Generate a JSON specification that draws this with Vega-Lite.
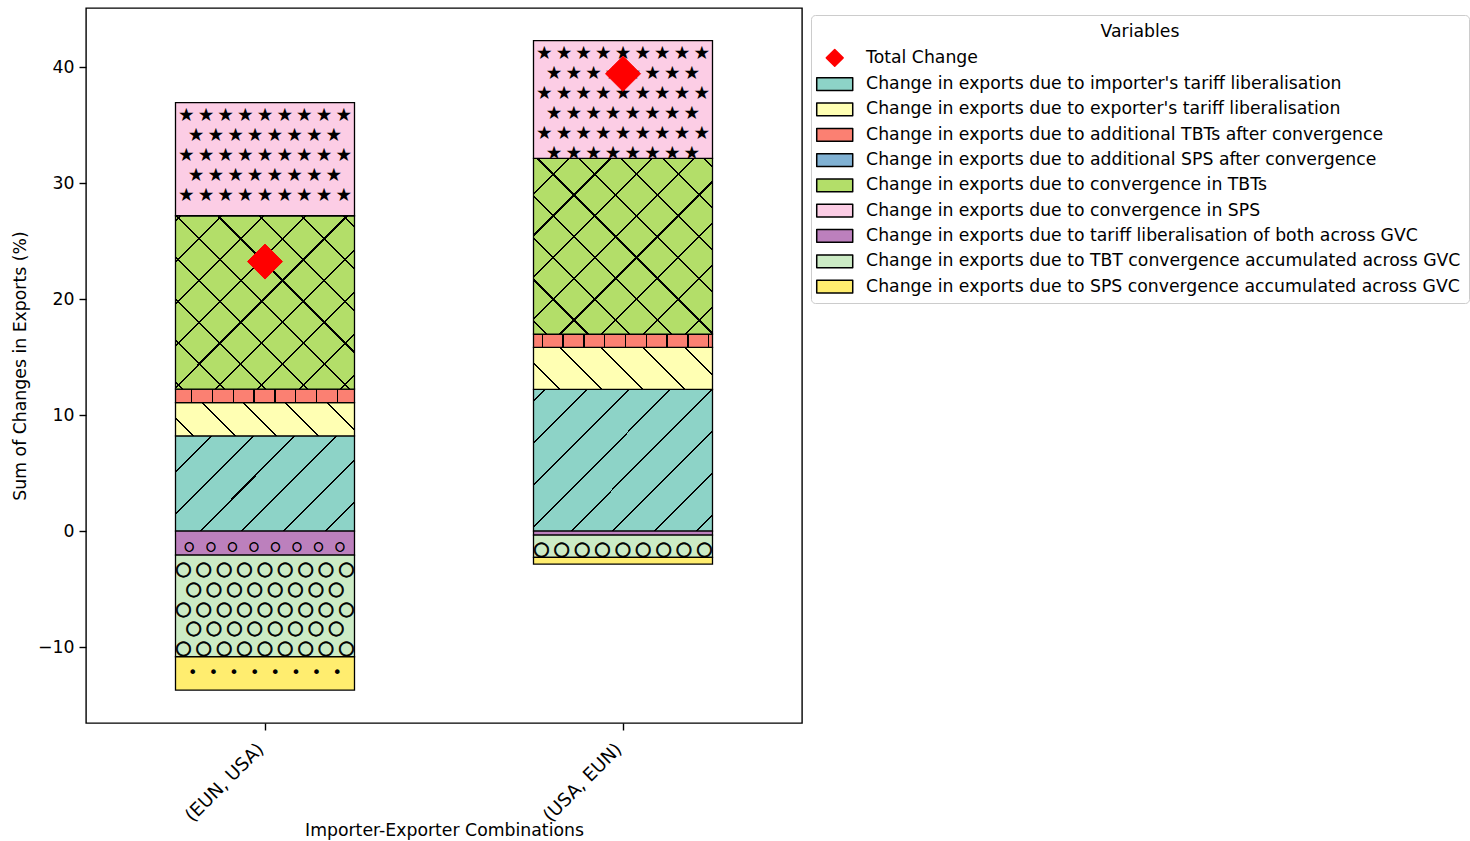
{
  "$schema": "https://vega.github.io/schema/vega-lite/v6.json",
  "width": 716,
  "height": 715,
  "autosize": {"type": "none"},
  "padding": {"left": 86, "top": 8, "right": 668, "bottom": 118},
  "background": "white",
  "config": {
    "font": "DejaVu Sans",
    "view": {"stroke": "black", "strokeWidth": 1.4},
    "axis": {
      "labelFont": "DejaVu Sans", "labelFontSize": 17.3, "labelColor": "black",
      "titleFont": "DejaVu Sans", "titleFontSize": 17.3, "titleFontWeight": "normal", "titleColor": "black",
      "tickColor": "black", "tickWidth": 1.4, "tickSize": 7, "domain": false, "grid": false
    },
    "legend": {
      "orient": "none", "legendX": 725, "legendY": 7, "direction": "vertical",
      "titleFont": "DejaVu Sans", "titleFontSize": 17.25, "titleFontWeight": "normal", "titleColor": "black",
      "titleAnchor": "middle", "titlePadding": 9,
      "labelFont": "DejaVu Sans", "labelFontSize": 17.25, "labelColor": "black", "labelLimit": 1000,
      "symbolSize": 240, "symbolStrokeWidth": 1.5, "symbolOffset": 7.1, "labelOffset": 22.75, "rowPadding": 7.3,
      "padding": 8, "strokeColor": "#cccccc", "fillColor": "white", "cornerRadius": 4
    }
  },
  "datasets": {
    "segments": [
      {"combo": "(EUN, USA)", "variable": "Change in exports due to importer's tariff liberalisation", "value": 8.2},
      {"combo": "(EUN, USA)", "variable": "Change in exports due to exporter's tariff liberalisation", "value": 2.87},
      {"combo": "(EUN, USA)", "variable": "Change in exports due to additional TBTs after convergence", "value": 1.16},
      {"combo": "(EUN, USA)", "variable": "Change in exports due to additional SPS after convergence", "value": 0},
      {"combo": "(EUN, USA)", "variable": "Change in exports due to convergence in TBTs", "value": 14.95},
      {"combo": "(EUN, USA)", "variable": "Change in exports due to convergence in SPS", "value": 9.76},
      {"combo": "(EUN, USA)", "variable": "Change in exports due to tariff liberalisation of both across GVC", "value": -2.07},
      {"combo": "(EUN, USA)", "variable": "Change in exports due to TBT convergence accumulated across GVC", "value": -8.77},
      {"combo": "(EUN, USA)", "variable": "Change in exports due to SPS convergence accumulated across GVC", "value": -2.87},
      {"combo": "(USA, EUN)", "variable": "Change in exports due to importer's tariff liberalisation", "value": 12.22},
      {"combo": "(USA, EUN)", "variable": "Change in exports due to exporter's tariff liberalisation", "value": 3.62},
      {"combo": "(USA, EUN)", "variable": "Change in exports due to additional TBTs after convergence", "value": 1.14},
      {"combo": "(USA, EUN)", "variable": "Change in exports due to additional SPS after convergence", "value": 0},
      {"combo": "(USA, EUN)", "variable": "Change in exports due to convergence in TBTs", "value": 15.15},
      {"combo": "(USA, EUN)", "variable": "Change in exports due to convergence in SPS", "value": 10.14},
      {"combo": "(USA, EUN)", "variable": "Change in exports due to tariff liberalisation of both across GVC", "value": -0.35},
      {"combo": "(USA, EUN)", "variable": "Change in exports due to TBT convergence accumulated across GVC", "value": -1.92},
      {"combo": "(USA, EUN)", "variable": "Change in exports due to SPS convergence accumulated across GVC", "value": -0.58}
    ],
    "totals": [
      {"combo": "(EUN, USA)", "variable": "Total Change", "value": 23.23},
      {"combo": "(USA, EUN)", "variable": "Total Change", "value": 39.42}
    ]
  },
  "layer": [
    {
      "data": {"name": "segments"},
      "transform": [{"stack": "value", "groupby": ["combo"], "as": ["v_start", "v_end"]}],
      "layer": [
        {
          "mark": {"type": "bar", "strokeWidth": 1.3},
          "encoding": {
            "x": {"field": "combo", "type": "nominal", "title": "Importer-Exporter Combinations",
                  "scale": {"paddingInner": 0.5, "paddingOuter": 0.25},
                  "axis": {"labelAngle": -45, "labelAlign": "right", "labelBaseline": "top", "labelPadding": 10, "labelOffset": -10,
                           "labelFontSize": 18.3, "bandPosition": 0.5, "labelFlush": false, "labelOverlap": false,
                           "titleY": 107, "titleBaseline": "middle"}},
            "y": {"field": "v_start", "type": "quantitative", "title": "Sum of Changes in Exports (%)",
                  "scale": {"domain": [-16.55, 45.09], "nice": false, "zero": false},
                  "axis": {"values": [-10, 0, 10, 20, 30, 40], "labelPadding": 5, "titlePadding": 8}},
            "y2": {"field": "v_end"},
            "fill": {"field": "variable", "type": "nominal", "title": "Variables",
                     "legend": {"encode": {"symbols": {"update": {"strokeJoin": {"value": "round"}}}}},
                     "scale": {"domain": ["Total Change",
                                          "Change in exports due to importer's tariff liberalisation",
                                          "Change in exports due to exporter's tariff liberalisation",
                                          "Change in exports due to additional TBTs after convergence",
                                          "Change in exports due to additional SPS after convergence",
                                          "Change in exports due to convergence in TBTs",
                                          "Change in exports due to convergence in SPS",
                                          "Change in exports due to tariff liberalisation of both across GVC",
                                          "Change in exports due to TBT convergence accumulated across GVC",
                                          "Change in exports due to SPS convergence accumulated across GVC"],
                               "range": ["#ff0000", "#8dd3c7", "#ffffb3", "#fb8072", "#80b1d3", "#b3de69", "#fccde5", "#bc80bd", "#ccebc5", "#ffed6f"]}},
            "stroke": {"field": "variable", "type": "nominal", "title": "Variables",
                       "legend": {"encode": {"symbols": {"update": {"strokeJoin": {"value": "round"}}}}},
                       "scale": {"domain": ["Total Change",
                                            "Change in exports due to importer's tariff liberalisation",
                                            "Change in exports due to exporter's tariff liberalisation",
                                            "Change in exports due to additional TBTs after convergence",
                                            "Change in exports due to additional SPS after convergence",
                                            "Change in exports due to convergence in TBTs",
                                            "Change in exports due to convergence in SPS",
                                            "Change in exports due to tariff liberalisation of both across GVC",
                                            "Change in exports due to TBT convergence accumulated across GVC",
                                            "Change in exports due to SPS convergence accumulated across GVC"],
                                 "range": ["#ff0000", "#000", "#000", "#000", "#000", "#000", "#000", "#000", "#000", "#000"]}}
          }
        },
        {
          "transform": [{"filter": {"field": "variable", "equal": "Change in exports due to importer's tariff liberalisation"}}],
          "mark": {"type": "bar"},
          "encoding": {
            "x": {"field": "combo", "type": "nominal", "title": "Importer-Exporter Combinations"},
            "y": {"field": "v_start", "type": "quantitative", "title": "Sum of Changes in Exports (%)"},
            "y2": {"field": "v_end"},
            "fill": {
              "condition": {"test": "datum.combo === '(EUN, USA)'", "value": {"gradient": "linear", "x1": 0, "y1": 0, "x2": 1.1944, "y2": 0.6339, "stops": [
                {"offset": 0, "color": "#0000"},
                {"offset": 0.1281, "color": "#0000"}, {"offset": 0.1281, "color": "#000"}, {"offset": 0.1355, "color": "#000"}, {"offset": 0.1355, "color": "#0000"},
                {"offset": 0.2803, "color": "#0000"}, {"offset": 0.2803, "color": "#000"}, {"offset": 0.2877, "color": "#000"}, {"offset": 0.2877, "color": "#0000"},
                {"offset": 0.4325, "color": "#0000"}, {"offset": 0.4325, "color": "#000"}, {"offset": 0.4399, "color": "#000"}, {"offset": 0.4399, "color": "#0000"},
                {"offset": 0.5847, "color": "#0000"}, {"offset": 0.5847, "color": "#000"}, {"offset": 0.5921, "color": "#000"}, {"offset": 0.5921, "color": "#0000"},
                {"offset": 0.7369, "color": "#0000"}, {"offset": 0.7369, "color": "#000"}, {"offset": 0.7443, "color": "#000"}, {"offset": 0.7443, "color": "#0000"},
                {"offset": 0.8891, "color": "#0000"}, {"offset": 0.8891, "color": "#000"}, {"offset": 0.8965, "color": "#000"}, {"offset": 0.8965, "color": "#0000"},
                {"offset": 1, "color": "#0000"}]}},
              "value": {"gradient": "linear", "x1": 0, "y1": 0, "x2": 1.1032, "y2": 0.869, "stops": [
                {"offset": 0, "color": "#0000"},
                {"offset": 0.0341, "color": "#0000"}, {"offset": 0.0341, "color": "#000"}, {"offset": 0.0403, "color": "#000"}, {"offset": 0.0403, "color": "#0000"},
                {"offset": 0.1644, "color": "#0000"}, {"offset": 0.1644, "color": "#000"}, {"offset": 0.1706, "color": "#000"}, {"offset": 0.1706, "color": "#0000"},
                {"offset": 0.2947, "color": "#0000"}, {"offset": 0.2947, "color": "#000"}, {"offset": 0.3009, "color": "#000"}, {"offset": 0.3009, "color": "#0000"},
                {"offset": 0.425, "color": "#0000"}, {"offset": 0.425, "color": "#000"}, {"offset": 0.4312, "color": "#000"}, {"offset": 0.4312, "color": "#0000"},
                {"offset": 0.5553, "color": "#0000"}, {"offset": 0.5553, "color": "#000"}, {"offset": 0.5615, "color": "#000"}, {"offset": 0.5615, "color": "#0000"},
                {"offset": 0.6856, "color": "#0000"}, {"offset": 0.6856, "color": "#000"}, {"offset": 0.6918, "color": "#000"}, {"offset": 0.6918, "color": "#0000"},
                {"offset": 0.8159, "color": "#0000"}, {"offset": 0.8159, "color": "#000"}, {"offset": 0.8221, "color": "#000"}, {"offset": 0.8221, "color": "#0000"},
                {"offset": 0.9462, "color": "#0000"}, {"offset": 0.9462, "color": "#000"}, {"offset": 0.9524, "color": "#000"}, {"offset": 0.9524, "color": "#0000"},
                {"offset": 1, "color": "#0000"}]}
            }
          }
        },
        {
          "transform": [{"filter": {"field": "variable", "equal": "Change in exports due to exporter's tariff liberalisation"}}],
          "mark": {"type": "bar"},
          "encoding": {
            "x": {"field": "combo", "type": "nominal", "title": "Importer-Exporter Combinations"},
            "y": {"field": "v_start", "type": "quantitative", "title": "Sum of Changes in Exports (%)"},
            "y2": {"field": "v_end"},
            "fill": {
              "condition": {"test": "datum.combo === '(EUN, USA)'", "value": {"gradient": "linear", "x1": 0, "y1": 1, "x2": 1.1464, "y2": 0.7868, "stops": [
                {"offset": 0, "color": "#0000"},
                {"offset": 0.0791, "color": "#0000"}, {"offset": 0.0791, "color": "#000"}, {"offset": 0.0885, "color": "#000"}, {"offset": 0.0885, "color": "#0000"},
                {"offset": 0.2755, "color": "#0000"}, {"offset": 0.2755, "color": "#000"}, {"offset": 0.2849, "color": "#000"}, {"offset": 0.2849, "color": "#0000"},
                {"offset": 0.4719, "color": "#0000"}, {"offset": 0.4719, "color": "#000"}, {"offset": 0.4813, "color": "#000"}, {"offset": 0.4813, "color": "#0000"},
                {"offset": 0.6683, "color": "#0000"}, {"offset": 0.6683, "color": "#000"}, {"offset": 0.6777, "color": "#000"}, {"offset": 0.6777, "color": "#0000"},
                {"offset": 0.8647, "color": "#0000"}, {"offset": 0.8647, "color": "#000"}, {"offset": 0.8741, "color": "#000"}, {"offset": 0.8741, "color": "#0000"},
                {"offset": 1, "color": "#0000"}]}},
              "value": {"gradient": "linear", "x1": 0, "y1": 1, "x2": 1.1702, "y2": 0.7255, "stops": [
                {"offset": 0, "color": "#0000"},
                {"offset": 0.1145, "color": "#0000"}, {"offset": 0.1145, "color": "#000"}, {"offset": 0.1235, "color": "#000"}, {"offset": 0.1235, "color": "#0000"},
                {"offset": 0.3032, "color": "#0000"}, {"offset": 0.3032, "color": "#000"}, {"offset": 0.3122, "color": "#000"}, {"offset": 0.3122, "color": "#0000"},
                {"offset": 0.4919, "color": "#0000"}, {"offset": 0.4919, "color": "#000"}, {"offset": 0.5009, "color": "#000"}, {"offset": 0.5009, "color": "#0000"},
                {"offset": 0.6806, "color": "#0000"}, {"offset": 0.6806, "color": "#000"}, {"offset": 0.6896, "color": "#000"}, {"offset": 0.6896, "color": "#0000"},
                {"offset": 0.8693, "color": "#0000"}, {"offset": 0.8693, "color": "#000"}, {"offset": 0.8783, "color": "#000"}, {"offset": 0.8783, "color": "#0000"},
                {"offset": 1, "color": "#0000"}]}
            }
          }
        },
        {
          "transform": [{"filter": {"field": "variable", "equal": "Change in exports due to additional TBTs after convergence"}}],
          "mark": {"type": "bar"},
          "encoding": {
            "x": {"field": "combo", "type": "nominal", "title": "Importer-Exporter Combinations"},
            "y": {"field": "v_start", "type": "quantitative", "title": "Sum of Changes in Exports (%)"},
            "y2": {"field": "v_end"},
            "fill": {
              "condition": {"test": "datum.combo === '(EUN, USA)'", "value": {"gradient": "linear", "x1": 0, "y1": 0, "x2": 1, "y2": 0, "stops": [
                {"offset": 0, "color": "#0000"},
                {"offset": 0.0865, "color": "#0000"}, {"offset": 0.0865, "color": "#000"}, {"offset": 0.0945, "color": "#000"}, {"offset": 0.0945, "color": "#0000"},
                {"offset": 0.2027, "color": "#0000"}, {"offset": 0.2027, "color": "#000"}, {"offset": 0.2107, "color": "#000"}, {"offset": 0.2107, "color": "#0000"},
                {"offset": 0.3189, "color": "#0000"}, {"offset": 0.3189, "color": "#000"}, {"offset": 0.3269, "color": "#000"}, {"offset": 0.3269, "color": "#0000"},
                {"offset": 0.4351, "color": "#0000"}, {"offset": 0.4351, "color": "#000"}, {"offset": 0.4431, "color": "#000"}, {"offset": 0.4431, "color": "#0000"},
                {"offset": 0.5513, "color": "#0000"}, {"offset": 0.5513, "color": "#000"}, {"offset": 0.5593, "color": "#000"}, {"offset": 0.5593, "color": "#0000"},
                {"offset": 0.6675, "color": "#0000"}, {"offset": 0.6675, "color": "#000"}, {"offset": 0.6755, "color": "#000"}, {"offset": 0.6755, "color": "#0000"},
                {"offset": 0.7837, "color": "#0000"}, {"offset": 0.7837, "color": "#000"}, {"offset": 0.7917, "color": "#000"}, {"offset": 0.7917, "color": "#0000"},
                {"offset": 0.8999, "color": "#0000"}, {"offset": 0.8999, "color": "#000"}, {"offset": 0.9079, "color": "#000"}, {"offset": 0.9079, "color": "#0000"},
                {"offset": 1, "color": "#0000"}]}},
              "value": {"gradient": "linear", "x1": 0, "y1": 0, "x2": 1, "y2": 0, "stops": [
                {"offset": 0, "color": "#0000"},
                {"offset": 0.0452, "color": "#0000"}, {"offset": 0.0452, "color": "#000"}, {"offset": 0.0532, "color": "#000"}, {"offset": 0.0532, "color": "#0000"},
                {"offset": 0.1614, "color": "#0000"}, {"offset": 0.1614, "color": "#000"}, {"offset": 0.1694, "color": "#000"}, {"offset": 0.1694, "color": "#0000"},
                {"offset": 0.2776, "color": "#0000"}, {"offset": 0.2776, "color": "#000"}, {"offset": 0.2856, "color": "#000"}, {"offset": 0.2856, "color": "#0000"},
                {"offset": 0.3938, "color": "#0000"}, {"offset": 0.3938, "color": "#000"}, {"offset": 0.4018, "color": "#000"}, {"offset": 0.4018, "color": "#0000"},
                {"offset": 0.51, "color": "#0000"}, {"offset": 0.51, "color": "#000"}, {"offset": 0.518, "color": "#000"}, {"offset": 0.518, "color": "#0000"},
                {"offset": 0.6262, "color": "#0000"}, {"offset": 0.6262, "color": "#000"}, {"offset": 0.6342, "color": "#000"}, {"offset": 0.6342, "color": "#0000"},
                {"offset": 0.7424, "color": "#0000"}, {"offset": 0.7424, "color": "#000"}, {"offset": 0.7504, "color": "#000"}, {"offset": 0.7504, "color": "#0000"},
                {"offset": 0.8586, "color": "#0000"}, {"offset": 0.8586, "color": "#000"}, {"offset": 0.8666, "color": "#000"}, {"offset": 0.8666, "color": "#0000"},
                {"offset": 0.9748, "color": "#0000"}, {"offset": 0.9748, "color": "#000"}, {"offset": 0.9828, "color": "#000"}, {"offset": 0.9828, "color": "#0000"},
                {"offset": 1, "color": "#0000"}]}
            }
          }
        },
        {
          "transform": [{"filter": {"field": "variable", "equal": "Change in exports due to convergence in TBTs"}}],
          "mark": {"type": "bar"},
          "encoding": {
            "x": {"field": "combo", "type": "nominal", "title": "Importer-Exporter Combinations"},
            "y": {"field": "v_start", "type": "quantitative", "title": "Sum of Changes in Exports (%)"},
            "y2": {"field": "v_end"},
            "fill": {
              "condition": {"test": "datum.combo === '(EUN, USA)'", "value": {"gradient": "linear", "x1": 0, "y1": 0, "x2": 1.0159, "y2": 0.9836, "stops": [
                {"offset": 0, "color": "#0000"},
                {"offset": 0.0109, "color": "#0000"}, {"offset": 0.0109, "color": "#000"}, {"offset": 0.0169, "color": "#000"}, {"offset": 0.0169, "color": "#0000"},
                {"offset": 0.1293, "color": "#0000"}, {"offset": 0.1293, "color": "#000"}, {"offset": 0.1353, "color": "#000"}, {"offset": 0.1353, "color": "#0000"},
                {"offset": 0.2477, "color": "#0000"}, {"offset": 0.2477, "color": "#000"}, {"offset": 0.2537, "color": "#000"}, {"offset": 0.2537, "color": "#0000"},
                {"offset": 0.366, "color": "#0000"}, {"offset": 0.366, "color": "#000"}, {"offset": 0.372, "color": "#000"}, {"offset": 0.372, "color": "#0000"},
                {"offset": 0.4844, "color": "#0000"}, {"offset": 0.4844, "color": "#000"}, {"offset": 0.4904, "color": "#000"}, {"offset": 0.4904, "color": "#0000"},
                {"offset": 0.6028, "color": "#0000"}, {"offset": 0.6028, "color": "#000"}, {"offset": 0.6088, "color": "#000"}, {"offset": 0.6088, "color": "#0000"},
                {"offset": 0.7212, "color": "#0000"}, {"offset": 0.7212, "color": "#000"}, {"offset": 0.7272, "color": "#000"}, {"offset": 0.7272, "color": "#0000"},
                {"offset": 0.8395, "color": "#0000"}, {"offset": 0.8395, "color": "#000"}, {"offset": 0.8455, "color": "#000"}, {"offset": 0.8455, "color": "#0000"},
                {"offset": 0.9579, "color": "#0000"}, {"offset": 0.9579, "color": "#000"}, {"offset": 0.9639, "color": "#000"}, {"offset": 0.9639, "color": "#0000"},
                {"offset": 1, "color": "#0000"}]}},
              "value": {"gradient": "linear", "x1": 0, "y1": 0, "x2": 1.0092, "y2": 0.9906, "stops": [
                {"offset": 0, "color": "#0000"},
                {"offset": 0.0968, "color": "#0000"}, {"offset": 0.0968, "color": "#000"}, {"offset": 0.1028, "color": "#000"}, {"offset": 0.1028, "color": "#0000"},
                {"offset": 0.2144, "color": "#0000"}, {"offset": 0.2144, "color": "#000"}, {"offset": 0.2204, "color": "#000"}, {"offset": 0.2204, "color": "#0000"},
                {"offset": 0.3319, "color": "#0000"}, {"offset": 0.3319, "color": "#000"}, {"offset": 0.3379, "color": "#000"}, {"offset": 0.3379, "color": "#0000"},
                {"offset": 0.4495, "color": "#0000"}, {"offset": 0.4495, "color": "#000"}, {"offset": 0.4555, "color": "#000"}, {"offset": 0.4555, "color": "#0000"},
                {"offset": 0.567, "color": "#0000"}, {"offset": 0.567, "color": "#000"}, {"offset": 0.573, "color": "#000"}, {"offset": 0.573, "color": "#0000"},
                {"offset": 0.6846, "color": "#0000"}, {"offset": 0.6846, "color": "#000"}, {"offset": 0.6906, "color": "#000"}, {"offset": 0.6906, "color": "#0000"},
                {"offset": 0.8022, "color": "#0000"}, {"offset": 0.8022, "color": "#000"}, {"offset": 0.8082, "color": "#000"}, {"offset": 0.8082, "color": "#0000"},
                {"offset": 0.9197, "color": "#0000"}, {"offset": 0.9197, "color": "#000"}, {"offset": 0.9257, "color": "#000"}, {"offset": 0.9257, "color": "#0000"},
                {"offset": 1, "color": "#0000"}]}
            }
          }
        },
        {
          "transform": [{"filter": {"field": "variable", "equal": "Change in exports due to convergence in TBTs"}}],
          "mark": {"type": "bar"},
          "encoding": {
            "x": {"field": "combo", "type": "nominal", "title": "Importer-Exporter Combinations"},
            "y": {"field": "v_start", "type": "quantitative", "title": "Sum of Changes in Exports (%)"},
            "y2": {"field": "v_end"},
            "fill": {
              "condition": {"test": "datum.combo === '(EUN, USA)'", "value": {"gradient": "linear", "x1": 0, "y1": 1, "x2": 1.0159, "y2": 0.0164, "stops": [
                {"offset": 0, "color": "#0000"},
                {"offset": 0.0172, "color": "#0000"}, {"offset": 0.0172, "color": "#000"}, {"offset": 0.0232, "color": "#000"}, {"offset": 0.0232, "color": "#0000"},
                {"offset": 0.1355, "color": "#0000"}, {"offset": 0.1355, "color": "#000"}, {"offset": 0.1415, "color": "#000"}, {"offset": 0.1415, "color": "#0000"},
                {"offset": 0.2539, "color": "#0000"}, {"offset": 0.2539, "color": "#000"}, {"offset": 0.2599, "color": "#000"}, {"offset": 0.2599, "color": "#0000"},
                {"offset": 0.3723, "color": "#0000"}, {"offset": 0.3723, "color": "#000"}, {"offset": 0.3783, "color": "#000"}, {"offset": 0.3783, "color": "#0000"},
                {"offset": 0.4906, "color": "#0000"}, {"offset": 0.4906, "color": "#000"}, {"offset": 0.4966, "color": "#000"}, {"offset": 0.4966, "color": "#0000"},
                {"offset": 0.609, "color": "#0000"}, {"offset": 0.609, "color": "#000"}, {"offset": 0.615, "color": "#000"}, {"offset": 0.615, "color": "#0000"},
                {"offset": 0.7274, "color": "#0000"}, {"offset": 0.7274, "color": "#000"}, {"offset": 0.7334, "color": "#000"}, {"offset": 0.7334, "color": "#0000"},
                {"offset": 0.8457, "color": "#0000"}, {"offset": 0.8457, "color": "#000"}, {"offset": 0.8517, "color": "#000"}, {"offset": 0.8517, "color": "#0000"},
                {"offset": 0.9641, "color": "#0000"}, {"offset": 0.9641, "color": "#000"}, {"offset": 0.9701, "color": "#000"}, {"offset": 0.9701, "color": "#0000"},
                {"offset": 1, "color": "#0000"}]}},
              "value": {"gradient": "linear", "x1": 0, "y1": 1, "x2": 1.0092, "y2": 0.0094, "stops": [
                {"offset": 0, "color": "#0000"},
                {"offset": 0.0331, "color": "#0000"}, {"offset": 0.0331, "color": "#000"}, {"offset": 0.0391, "color": "#000"}, {"offset": 0.0391, "color": "#0000"},
                {"offset": 0.1507, "color": "#0000"}, {"offset": 0.1507, "color": "#000"}, {"offset": 0.1567, "color": "#000"}, {"offset": 0.1567, "color": "#0000"},
                {"offset": 0.2682, "color": "#0000"}, {"offset": 0.2682, "color": "#000"}, {"offset": 0.2742, "color": "#000"}, {"offset": 0.2742, "color": "#0000"},
                {"offset": 0.3858, "color": "#0000"}, {"offset": 0.3858, "color": "#000"}, {"offset": 0.3918, "color": "#000"}, {"offset": 0.3918, "color": "#0000"},
                {"offset": 0.5033, "color": "#0000"}, {"offset": 0.5033, "color": "#000"}, {"offset": 0.5093, "color": "#000"}, {"offset": 0.5093, "color": "#0000"},
                {"offset": 0.6209, "color": "#0000"}, {"offset": 0.6209, "color": "#000"}, {"offset": 0.6269, "color": "#000"}, {"offset": 0.6269, "color": "#0000"},
                {"offset": 0.7385, "color": "#0000"}, {"offset": 0.7385, "color": "#000"}, {"offset": 0.7445, "color": "#000"}, {"offset": 0.7445, "color": "#0000"},
                {"offset": 0.856, "color": "#0000"}, {"offset": 0.856, "color": "#000"}, {"offset": 0.862, "color": "#000"}, {"offset": 0.862, "color": "#0000"},
                {"offset": 0.9736, "color": "#0000"}, {"offset": 0.9736, "color": "#000"}, {"offset": 0.9796, "color": "#000"}, {"offset": 0.9796, "color": "#0000"},
                {"offset": 1, "color": "#0000"}]}
            }
          }
        },
        {
          "transform": [{"filter": {"field": "variable", "equal": "Change in exports due to convergence in SPS"}}],
          "mark": {"type": "text", "font": "DejaVu Sans", "fontSize": 18.5, "baseline": "top", "align": "center", "lineHeight": 20, "dy": 3, "color": "black"},
          "encoding": {
            "x": {"field": "combo", "type": "nominal", "title": "Importer-Exporter Combinations"},
            "y": {"field": "v_end", "type": "quantitative", "title": "Sum of Changes in Exports (%)"},
            "text": {
              "condition": {"test": "datum.combo === '(EUN, USA)'", "value": [
                "★\u2006★\u2006★\u2006★\u2006★\u2006★\u2006★\u2006★\u2006★",
                "★\u2006★\u2006★\u2006★\u2006★\u2006★\u2006★\u2006★",
                "★\u2006★\u2006★\u2006★\u2006★\u2006★\u2006★\u2006★\u2006★",
                "★\u2006★\u2006★\u2006★\u2006★\u2006★\u2006★\u2006★",
                "★\u2006★\u2006★\u2006★\u2006★\u2006★\u2006★\u2006★\u2006★"]},
              "value": [
                "★\u2006★\u2006★\u2006★\u2006★\u2006★\u2006★\u2006★\u2006★",
                "★\u2006★\u2006★\u2006★\u2006★\u2006★\u2006★\u2006★",
                "★\u2006★\u2006★\u2006★\u2006★\u2006★\u2006★\u2006★\u2006★",
                "★\u2006★\u2006★\u2006★\u2006★\u2006★\u2006★\u2006★",
                "★\u2006★\u2006★\u2006★\u2006★\u2006★\u2006★\u2006★\u2006★",
                "★\u2006★\u2006★\u2006★\u2006★\u2006★\u2006★\u2006★"]
            }
          }
        },
        {
          "transform": [{"filter": {"field": "variable", "equal": "Change in exports due to TBT convergence accumulated across GVC"}}],
          "mark": {"type": "text", "font": "DejaVu Sans", "fontSize": 19, "baseline": "top", "align": "center", "lineHeight": 19.6, "dy": 5.3, "color": "black", "stroke": "black", "strokeWidth": 0.8},
          "encoding": {
            "x": {"field": "combo", "type": "nominal", "title": "Importer-Exporter Combinations"},
            "y": {"field": "v_start", "type": "quantitative", "title": "Sum of Changes in Exports (%)"},
            "text": {
              "condition": {"test": "datum.combo === '(EUN, USA)'", "value": [
                "○\u2009○\u2009○\u2009○\u2009○\u2009○\u2009○\u2009○\u2009○",
                "○\u2009○\u2009○\u2009○\u2009○\u2009○\u2009○\u2009○",
                "○\u2009○\u2009○\u2009○\u2009○\u2009○\u2009○\u2009○\u2009○",
                "○\u2009○\u2009○\u2009○\u2009○\u2009○\u2009○\u2009○",
                "○\u2009○\u2009○\u2009○\u2009○\u2009○\u2009○\u2009○\u2009○"]},
              "value": ["○\u2009○\u2009○\u2009○\u2009○\u2009○\u2009○\u2009○\u2009○"]
            }
          }
        },
        {
          "transform": [
            {"filter": {"field": "variable", "equal": "Change in exports due to tariff liberalisation of both across GVC"}},
            {"filter": {"field": "combo", "equal": "(EUN, USA)"}}
          ],
          "mark": {"type": "text", "font": "DejaVu Sans", "fontSize": 11.5, "baseline": "top", "align": "center", "dy": 10, "color": "black", "stroke": "black", "strokeWidth": 0.6},
          "encoding": {
            "x": {"field": "combo", "type": "nominal", "title": "Importer-Exporter Combinations"},
            "y": {"field": "v_start", "type": "quantitative", "title": "Sum of Changes in Exports (%)"},
            "text": {"value": "○\u2002\u2002○\u2002\u2002○\u2002\u2002○\u2002\u2002○\u2002\u2002○\u2002\u2002○\u2002\u2002○"}
          }
        },
        {
          "transform": [
            {"filter": {"field": "variable", "equal": "Change in exports due to SPS convergence accumulated across GVC"}},
            {"filter": {"field": "combo", "equal": "(EUN, USA)"}}
          ],
          "mark": {"type": "text", "font": "DejaVu Sans", "fontSize": 16, "baseline": "top", "align": "center", "dy": 8.5, "color": "black"},
          "encoding": {
            "x": {"field": "combo", "type": "nominal", "title": "Importer-Exporter Combinations"},
            "y": {"field": "v_start", "type": "quantitative", "title": "Sum of Changes in Exports (%)"},
            "text": {"value": "•\u2002\u2009•\u2002\u2009•\u2002\u2009•\u2002\u2009•\u2002\u2009•\u2002\u2009•\u2002\u2009•"}
          }
        }
      ]
    },
    {
      "data": {"name": "totals"},
      "mark": {"type": "point", "filled": true, "opacity": 1, "size": 1042, "strokeWidth": 1},
      "encoding": {
        "x": {"field": "combo", "type": "nominal", "title": "Importer-Exporter Combinations"},
        "y": {"field": "value", "type": "quantitative", "title": "Sum of Changes in Exports (%)"},
        "fill": {"field": "variable", "type": "nominal", "title": "Variables",
                 "legend": {"encode": {"symbols": {"update": {"strokeJoin": {"value": "round"}}}}},
                 "scale": {"domain": ["Total Change",
                                      "Change in exports due to importer's tariff liberalisation",
                                      "Change in exports due to exporter's tariff liberalisation",
                                      "Change in exports due to additional TBTs after convergence",
                                      "Change in exports due to additional SPS after convergence",
                                      "Change in exports due to convergence in TBTs",
                                      "Change in exports due to convergence in SPS",
                                      "Change in exports due to tariff liberalisation of both across GVC",
                                      "Change in exports due to TBT convergence accumulated across GVC",
                                      "Change in exports due to SPS convergence accumulated across GVC"],
                           "range": ["#ff0000", "#8dd3c7", "#ffffb3", "#fb8072", "#80b1d3", "#b3de69", "#fccde5", "#bc80bd", "#ccebc5", "#ffed6f"]}},
        "stroke": {"field": "variable", "type": "nominal", "title": "Variables",
                   "legend": {"encode": {"symbols": {"update": {"strokeJoin": {"value": "round"}}}}},
                   "scale": {"domain": ["Total Change",
                                        "Change in exports due to importer's tariff liberalisation",
                                        "Change in exports due to exporter's tariff liberalisation",
                                        "Change in exports due to additional TBTs after convergence",
                                        "Change in exports due to additional SPS after convergence",
                                        "Change in exports due to convergence in TBTs",
                                        "Change in exports due to convergence in SPS",
                                        "Change in exports due to tariff liberalisation of both across GVC",
                                        "Change in exports due to TBT convergence accumulated across GVC",
                                        "Change in exports due to SPS convergence accumulated across GVC"],
                             "range": ["#ff0000", "#000", "#000", "#000", "#000", "#000", "#000", "#000", "#000", "#000"]}},
        "shape": {"field": "variable", "type": "nominal", "title": "Variables",
                  "legend": {"encode": {"symbols": {"update": {"strokeJoin": {"value": "round"}}}}},
                  "scale": {"domain": ["Total Change",
                                       "Change in exports due to importer's tariff liberalisation",
                                       "Change in exports due to exporter's tariff liberalisation",
                                       "Change in exports due to additional TBTs after convergence",
                                       "Change in exports due to additional SPS after convergence",
                                       "Change in exports due to convergence in TBTs",
                                       "Change in exports due to convergence in SPS",
                                       "Change in exports due to tariff liberalisation of both across GVC",
                                       "Change in exports due to TBT convergence accumulated across GVC",
                                       "Change in exports due to SPS convergence accumulated across GVC"],
                            "range": ["M0,-1.0844L1.0844,0L0,1.0844L-1.0844,0Z",
                                      "M-2.324,-0.82L2.324,-0.82L2.324,0.82L-2.324,0.82Z",
                                      "M-2.324,-0.82L2.324,-0.82L2.324,0.82L-2.324,0.82Z",
                                      "M-2.324,-0.82L2.324,-0.82L2.324,0.82L-2.324,0.82Z",
                                      "M-2.324,-0.82L2.324,-0.82L2.324,0.82L-2.324,0.82Z",
                                      "M-2.324,-0.82L2.324,-0.82L2.324,0.82L-2.324,0.82Z",
                                      "M-2.324,-0.82L2.324,-0.82L2.324,0.82L-2.324,0.82Z",
                                      "M-2.324,-0.82L2.324,-0.82L2.324,0.82L-2.324,0.82Z",
                                      "M-2.324,-0.82L2.324,-0.82L2.324,0.82L-2.324,0.82Z",
                                      "M-2.324,-0.82L2.324,-0.82L2.324,0.82L-2.324,0.82Z"]}}
      }
    }
  ]
}
